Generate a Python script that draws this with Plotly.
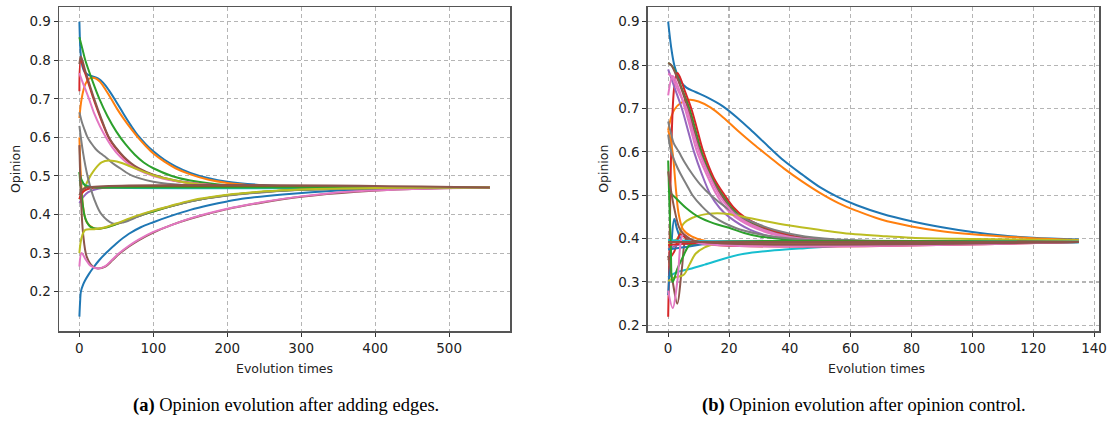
import plotly.graph_objects as go

W, H = 1119, 425

# ---------------- Panel (a): opinion evolution after adding edges ----------------
a_x_ticks = [0, 100, 200, 300, 400, 500]
a_y_ticks = [0.2, 0.3, 0.4, 0.5, 0.6, 0.7, 0.8, 0.9]

a_blue_top = [(0,0.9),(1,0.84),(2,0.81),(4,0.785),(7,0.77),(12,0.762),(18,0.758),(25,0.753),(32,0.742),(40,0.722),(50,0.692),(60,0.66),(70,0.63),(80,0.603),(90,0.582),(100,0.564),(115,0.542),(130,0.525),(150,0.508),(175,0.494),(200,0.485),(250,0.476),(300,0.472),(400,0.47),(555,0.47)]
a_orange_top = [(0,0.65),(3,0.70),(8,0.738),(13,0.752),(18,0.755),(23,0.752),(28,0.744),(35,0.725),(43,0.70),(51,0.674),(60,0.648),(70,0.622),(80,0.598),(90,0.577),(100,0.558),(115,0.537),(130,0.52),(150,0.504),(175,0.49),(200,0.482),(250,0.474),(300,0.471),(555,0.47)]
a_green_top = [(0,0.86),(4,0.83),(8,0.80),(17,0.75),(27,0.70),(38,0.655),(50,0.615),(62,0.583),(75,0.555),(87,0.535),(100,0.52),(125,0.50),(150,0.488),(200,0.476),(250,0.472),(555,0.47)]
a_red_top = [(0,0.72),(2,0.80),(8,0.765),(14,0.73),(20,0.695),(30,0.643),(40,0.598),(50,0.57),(60,0.548),(70,0.531),(80,0.518),(100,0.502),(130,0.487),(175,0.477),(250,0.471),(555,0.47)]
a_brown_top = [(0,0.79),(2,0.81),(8,0.772),(14,0.736),(20,0.70),(30,0.647),(40,0.60),(50,0.572),(60,0.55),(70,0.533),(80,0.52),(100,0.503),(130,0.488),(175,0.477),(250,0.471),(555,0.47)]
a_pink_top = [(0,0.767),(3,0.75),(8,0.725),(13,0.70),(20,0.662),(28,0.628),(36,0.60),(45,0.573),(55,0.55),(67,0.53),(80,0.515),(100,0.50),(130,0.487),(175,0.477),(250,0.471),(555,0.47)]
a_gray_top = [(0,0.665),(3,0.642),(6,0.625),(11,0.60),(16,0.585),(22,0.57),(29,0.558),(36,0.548),(45,0.533),(55,0.52),(72,0.50),(100,0.485),(150,0.475),(200,0.471),(555,0.47)]
a_olive_hump = [(0,0.44),(5,0.46),(12,0.49),(20,0.515),(30,0.535),(40,0.54),(55,0.535),(75,0.52),(100,0.502),(125,0.49),(150,0.481),(200,0.473),(300,0.47),(555,0.47)]
a_cyan_mid = [(0,0.49),(3,0.482),(8,0.476),(15,0.472),(30,0.47),(555,0.47)]
a_green_mid = [(0,0.51),(3,0.49),(8,0.475),(15,0.471),(30,0.47),(555,0.47)]
a_red_mid = [(0,0.44),(3,0.455),(8,0.463),(15,0.468),(30,0.47),(555,0.47)]
a_purple_mid = [(0,0.43),(5,0.445),(12,0.458),(25,0.467),(40,0.47),(555,0.47)]
a_gray_low = [(0,0.63),(5,0.56),(11,0.50),(20,0.44),(30,0.40),(45,0.377),(60,0.38),(80,0.395),(100,0.41),(121,0.42),(150,0.434),(200,0.449),(250,0.458),(300,0.464),(400,0.468),(555,0.47)]
a_green_low = [(0,0.51),(3,0.45),(8,0.39),(15,0.368),(25,0.363),(35,0.366),(50,0.375),(75,0.393),(100,0.408),(150,0.434),(200,0.45),(300,0.464),(555,0.47)]
a_orange_low = [(0,0.60),(2,0.50),(5,0.42),(10,0.38),(20,0.364),(30,0.364),(50,0.375),(75,0.393),(100,0.408),(150,0.434),(200,0.45),(300,0.464),(555,0.47)]
a_olive_low = [(0,0.30),(3,0.34),(8,0.36),(20,0.362),(35,0.367),(50,0.377),(75,0.395),(100,0.41),(121,0.421),(150,0.436),(200,0.451),(250,0.46),(300,0.465),(400,0.469),(555,0.47)]
a_blue_low = [(0,0.135),(1,0.175),(2,0.20),(5,0.218),(8,0.23),(13,0.246),(18,0.26),(27,0.282),(36,0.30),(50,0.325),(67,0.35),(83,0.367),(100,0.38),(125,0.397),(150,0.412),(175,0.424),(200,0.434),(225,0.442),(275,0.452),(350,0.462),(450,0.468),(555,0.47)]
a_brown_low = [(0,0.58),(2,0.45),(5,0.35),(10,0.29),(18,0.265),(25,0.26),(35,0.265),(45,0.282),(54,0.298),(67,0.317),(80,0.333),(100,0.353),(125,0.373),(150,0.389),(200,0.414),(250,0.432),(300,0.446),(375,0.459),(450,0.466),(555,0.47)]
a_pink_low = [(0,0.265),(3,0.30),(8,0.285),(15,0.267),(25,0.26),(35,0.266),(45,0.284),(54,0.30),(67,0.319),(80,0.335),(100,0.355),(121,0.37),(150,0.39),(200,0.415),(250,0.433),(300,0.447),(363,0.459),(450,0.466),(555,0.47)]
a_brown_flat = [(0,0.45),(4,0.465),(10,0.47),(555,0.47)]

# ---------------- Panel (b): opinion evolution after opinion control ----------------
b_x_ticks = [0, 20, 40, 60, 80, 100, 120, 140]
b_y_ticks = [0.2, 0.3, 0.4, 0.5, 0.6, 0.7, 0.8, 0.9]

b_blue_top = [(0,0.9),(1,0.84),(2,0.80),(3,0.778),(4,0.763),(6,0.748),(9,0.738),(13,0.725),(18,0.705),(23,0.677),(28,0.645),(33,0.612),(38,0.58),(44,0.548),(50,0.518),(56,0.495),(62,0.477),(70,0.458),(80,0.44),(90,0.426),(100,0.415),(110,0.407),(120,0.402),(135,0.398)]
b_orange_top = [(0,0.65),(1,0.68),(2,0.697),(4,0.712),(7,0.72),(10,0.716),(14,0.702),(18,0.68),(23,0.648),(28,0.618),(33,0.59),(38,0.562),(44,0.532),(50,0.505),(56,0.482),(62,0.464),(70,0.444),(80,0.428),(90,0.417),(100,0.41),(110,0.405),(120,0.401),(135,0.397)]
b_orange_drop = [(0,0.65),(1,0.62),(1.7,0.583),(2.6,0.51),(3.5,0.455),(5,0.42),(7.7,0.405),(12,0.395),(20,0.392),(135,0.392)]
b_green_top = [(0,0.805),(1,0.80),(2,0.79),(4,0.755),(7,0.70),(9,0.65),(11,0.60),(14.5,0.54),(18,0.50),(21,0.472),(24,0.45),(30,0.427),(40,0.405),(50,0.397),(135,0.393)]
b_brown_top = [(0,0.805),(1,0.80),(3,0.77),(6.5,0.70),(8.5,0.65),(10.5,0.60),(14,0.54),(17.5,0.50),(20,0.474),(23,0.452),(30,0.425),(40,0.405),(135,0.393)]
b_red_top = [(0,0.22),(0.5,0.40),(1,0.60),(2,0.75),(3,0.782),(4,0.77),(5.5,0.74),(7.6,0.70),(9.6,0.65),(11.6,0.60),(15,0.54),(18.6,0.50),(21.5,0.472),(25,0.45),(32,0.425),(40,0.408),(50,0.398),(60,0.394),(135,0.393)]
b_purple_top = [(0,0.79),(2,0.75),(4.5,0.70),(6.5,0.65),(8.5,0.60),(11,0.55),(14,0.50),(17,0.47),(20,0.45),(27,0.42),(35,0.403),(45,0.395),(60,0.393),(135,0.393)]
b_pink_top = [(0,0.73),(1.5,0.775),(3,0.755),(5.5,0.70),(7.5,0.65),(9.5,0.60),(12.5,0.55),(16,0.50),(19,0.47),(22,0.45),(29,0.423),(38,0.404),(50,0.396),(135,0.393)]
b_pink_top2 = [(0,0.78),(1,0.775),(3,0.745),(6,0.70),(8,0.65),(10.2,0.60),(13.2,0.55),(16.8,0.50),(19.8,0.472),(22.5,0.452),(30,0.424),(40,0.404),(52,0.396),(135,0.393)]
b_gray_top = [(0,0.67),(1,0.64),(1.8,0.62),(3.5,0.60),(5.5,0.575),(7.8,0.55),(10.5,0.525),(14,0.50),(19,0.472),(24,0.45),(30,0.432),(35,0.42),(45,0.405),(60,0.396),(80,0.393),(135,0.393)]
b_gray_top2 = [(0,0.64),(1,0.60),(2.5,0.572),(4,0.55),(6,0.525),(8,0.50),(11,0.475),(15,0.45),(22,0.425),(30,0.41),(40,0.40),(55,0.395),(135,0.393)]
b_green_mid = [(0,0.51),(3,0.49),(6,0.47),(10,0.45),(15,0.435),(20,0.425),(25,0.413),(30,0.405),(40,0.397),(50,0.394),(135,0.393)]
b_olive_hump = [(0,0.39),(3,0.40),(5,0.434),(8,0.448),(13,0.457),(18,0.458),(25,0.45),(32,0.44),(40,0.43),(50,0.42),(60,0.411),(70,0.406),(80,0.402),(100,0.399),(135,0.396)]
b_olive_low = [(0,0.302),(2,0.31),(5,0.316),(7,0.34),(9,0.365),(12,0.38),(16,0.388),(25,0.391),(135,0.393)]
b_cyan_low = [(0,0.31),(2,0.32),(4,0.325),(7,0.33),(12,0.34),(20,0.357),(25,0.365),(35,0.373),(45,0.378),(60,0.384),(80,0.387),(100,0.389),(135,0.391)]
b_blue_wig = [(0,0.27),(1,0.38),(2,0.445),(3,0.42),(5,0.39),(8,0.388),(135,0.392)]
b_pink_wig = [(0,0.28),(1.5,0.24),(3,0.30),(5,0.41),(7,0.40),(10,0.39),(135,0.392)]
b_brown_wig = [(0,0.36),(1.5,0.30),(3,0.25),(4.5,0.33),(6,0.40),(8,0.395),(12,0.39),(135,0.392)]
b_red_wig = [(0,0.35),(2,0.37),(4,0.41),(6,0.40),(9,0.39),(135,0.392)]
b_green_wig = [(0,0.58),(0.8,0.40),(1.5,0.30),(3,0.33),(5,0.36),(7,0.385),(10,0.39),(135,0.392)]
b_purple_flat = [(0,0.375),(3,0.385),(6,0.39),(135,0.392)]
b_brown_drop = [(0,0.555),(2,0.47),(4,0.42),(7,0.40),(10,0.393),(135,0.392)]
b_red_flat = [(0,0.385),(10,0.39),(135,0.392)]
b_blue_flat = [(0,0.375),(5,0.38),(15,0.389),(135,0.392)]
b_cyan_flat = [(0,0.397),(5,0.395),(135,0.393)]
b_brown_flat = [(0,0.392),(135,0.392)]

C = dict(blue="#1f77b4", orange="#ff7f0e", green="#2ca02c", red="#d62728", purple="#9467bd",
         brown="#8c564b", pink="#e377c2", gray="#7f7f7f", olive="#bcbd22", cyan="#17becf")

panel_a = [
    (a_blue_top, "blue"), (a_orange_top, "orange"), (a_green_top, "green"), (a_red_top, "red"),
    (a_purple_mid, "purple"), (a_brown_top, "brown"), (a_pink_top, "pink"), (a_gray_top, "gray"),
    (a_olive_hump, "olive"), (a_cyan_mid, "cyan"),
    (a_blue_low, "blue"), (a_orange_low, "orange"), (a_green_low, "green"), (a_red_mid, "red"),
    (a_green_mid, "green"), (a_brown_low, "brown"), (a_pink_low, "pink"), (a_gray_low, "gray"),
    (a_olive_low, "olive"), (a_brown_flat, "brown"),
]
panel_b = [
    (b_blue_top, "blue"), (b_orange_top, "orange"), (b_green_top, "green"), (b_red_top, "red"),
    (b_purple_top, "purple"), (b_brown_top, "brown"), (b_pink_top, "pink"), (b_gray_top, "gray"),
    (b_olive_hump, "olive"), (b_cyan_low, "cyan"),
    (b_blue_wig, "blue"), (b_orange_drop, "orange"), (b_green_mid, "green"), (b_red_wig, "red"),
    (b_purple_flat, "purple"), (b_brown_wig, "brown"), (b_pink_top2, "pink"), (b_gray_top2, "gray"),
    (b_olive_low, "olive"), (b_cyan_flat, "cyan"),
    (b_blue_flat, "blue"), (b_green_wig, "green"), (b_red_flat, "red"), (b_pink_wig, "pink"),
    (b_brown_drop, "brown"), (b_brown_flat, "brown"),
]

fig = go.Figure()
for pts, col in panel_a:
    fig.add_trace(go.Scatter(x=[p[0] for p in pts], y=[p[1] for p in pts], mode="lines",
                             line=dict(color=C[col], width=2, shape="spline", smoothing=1.0),
                             xaxis="x", yaxis="y", showlegend=False, hoverinfo="skip"))
for pts, col in panel_b:
    fig.add_trace(go.Scatter(x=[p[0] for p in pts], y=[p[1] for p in pts], mode="lines",
                             line=dict(color=C[col], width=2, shape="spline", smoothing=1.0),
                             xaxis="x2", yaxis="y2", showlegend=False, hoverinfo="skip"))

def px_x(p):
    return p / W

def px_y(p):
    return 1 - p / H

ax_common = dict(showline=True, linecolor="#555555", linewidth=1.3, mirror=True,
                 ticks="outside", ticklen=4, tickcolor="#333333", tickwidth=1,
                 showgrid=True, gridcolor="#b5b5b5", gridwidth=1.1, griddash="4.5px,2.5px",
                 zeroline=False, tickfont=dict(family="DejaVu Sans", size=13.5, color="#222222"))

dom_y = [px_y(333), px_y(7)]
fig.update_layout(
    width=W, height=H, margin=dict(l=0, r=0, t=0, b=0),
    paper_bgcolor="white", plot_bgcolor="white",
    xaxis=dict(domain=[px_x(59.3), px_x(514)], range=[-27.75, 582.75], tickvals=a_x_ticks,
               anchor="y", **ax_common),
    yaxis=dict(domain=dom_y, range=[0.0967, 0.9383], tickvals=a_y_ticks, tickformat=".1f",
               anchor="x", **ax_common),
    xaxis2=dict(domain=[px_x(652.3), px_x(1107.3)], range=[-6.75, 141.75], tickvals=b_x_ticks,
                anchor="y2", **ax_common),
    yaxis2=dict(domain=dom_y, range=[0.186, 0.934], tickvals=b_y_ticks, tickformat=".1f",
                anchor="x2", **ax_common),
)

title_font = dict(family="DejaVu Sans", size=12.5, color="#222222")
cap_font = dict(family="Liberation Serif", size=18.5, color="#000000")
ann = [
    dict(text="Opinion", x=px_x(15), y=px_y(170), textangle=-90),
    dict(text="Opinion", x=px_x(608), y=px_y(170), textangle=-90),
    dict(text="Evolution times", x=px_x(287), y=px_y(370)),
    dict(text="Evolution times", x=px_x(883), y=px_y(370)),
]
for a in ann:
    fig.add_annotation(xref="paper", yref="paper", showarrow=False, font=title_font,
                       xanchor="center", yanchor="middle", **a)
fig.add_annotation(text="<b>(a)</b> Opinion evolution after adding edges.", xref="paper", yref="paper",
                   x=px_x(288), y=px_y(407), showarrow=False, font=cap_font,
                   xanchor="center", yanchor="middle")
fig.add_annotation(text="<b>(b)</b> Opinion evolution after opinion control.", xref="paper", yref="paper",
                   x=px_x(870), y=px_y(407), showarrow=False, font=cap_font,
                   xanchor="center", yanchor="middle")

# remove the browser's default body margin so the figure sits at the page origin
fig.write_html("out.html", config={"displayModeBar": False, "staticPlot": True},
               post_script="document.body.style.margin='0px';document.body.style.overflow='hidden';")
